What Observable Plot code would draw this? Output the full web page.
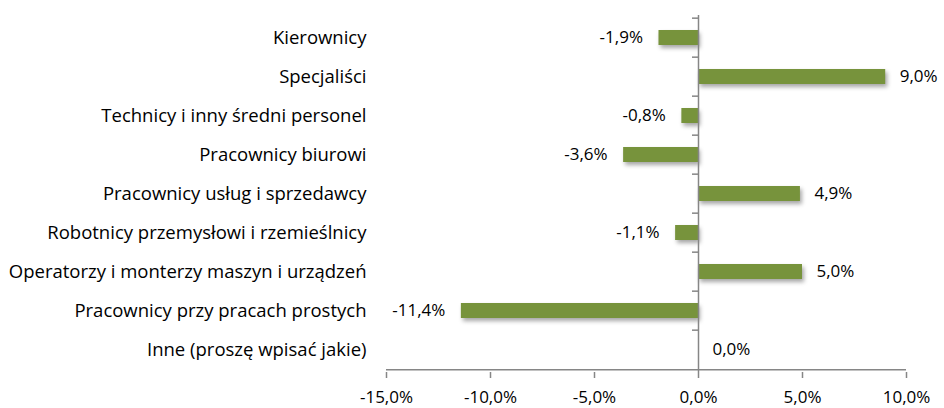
<!DOCTYPE html>
<html>
<head>
<meta charset="utf-8">
<script src="https://cdn.jsdelivr.net/npm/d3@7"></script>
<script src="https://cdn.jsdelivr.net/npm/@observablehq/plot@0.6"></script>
<style>
  html, body { margin: 0; padding: 0; background: #fff; }
  #chart svg { display: block; }
  #chart g[aria-label="bar"] { filter: drop-shadow(2px 3px 2px rgba(0,0,0,0.35)); }
</style>
</head>
<body>
<div id="chart"></div>
<script>
const categories = [
  "Kierownicy",
  "Specjaliści",
  "Technicy i inny średni personel",
  "Pracownicy biurowi",
  "Pracownicy usług i sprzedawcy",
  "Robotnicy przemysłowi i rzemieślnicy",
  "Operatorzy i monterzy maszyn i urządzeń",
  "Pracownicy przy pracach prostych",
  "Inne (proszę wpisać jakie)"
];
const values = [-1.9, 9.0, -0.8, -3.6, 4.9, -1.1, 5.0, -11.4, 0.0];
const xTicks = [-15, -10, -5, 0, 5, 10];

const data = categories.map((c, i) => ({category: c, value: values[i]}));
const fmt = v => v.toFixed(1).replace(".", ",") + "%";

const W = 944, H = 408;
const mTop = 15, mBottom = 36, mLeft = 386, mRight = 38;
const step = (H - mTop - mBottom) / categories.length;
const axisColor = "#868686";
const font = "'Open Sans', sans-serif";

const chart = Plot.plot({
  width: W,
  height: H,
  marginTop: mTop,
  marginBottom: mBottom,
  marginLeft: mLeft,
  marginRight: mRight,
  style: {fontFamily: font, fontSize: "17px", color: "#000", background: "#fff"},
  x: {domain: [-15, 10]},
  y: {domain: categories, paddingInner: 0.62, paddingOuter: 0.31},
  marks: [
    Plot.barX(data, {x: "value", y: "category", fill: "#77933C"}),
    Plot.ruleX([0], {stroke: axisColor, strokeWidth: 1.5}),
    Plot.ruleY(categories, {y: d => d, x1: 0, x2: 0, insetLeft: -6, dy: -step / 2, stroke: axisColor, strokeWidth: 1.5}),
    Plot.ruleY([categories[categories.length - 1]], {y: d => d, x1: -15, x2: 10, dy: step / 2, stroke: axisColor, strokeWidth: 1.5}),
    Plot.text(data.filter(d => d.value >= 0), {x: "value", y: "category", text: d => fmt(d.value), textAnchor: "start", dx: 14, fill: "#000", fontSize: 17}),
    Plot.text(data.filter(d => d.value < 0), {x: "value", y: "category", text: d => fmt(d.value), textAnchor: "end", dx: -16, fill: "#000", fontSize: 17}),
    Plot.axisY({tickSize: 0, tickPadding: 20, label: null, fontSize: 18.5}),
    Plot.axisX({ticks: xTicks, tickFormat: fmt, tickSize: 6, tickPadding: 12, stroke: axisColor, strokeWidth: 1.5, label: null, color: "#000", fontSize: 17})
  ]
});
document.getElementById("chart").appendChild(chart);
</script>
</body>
</html>
